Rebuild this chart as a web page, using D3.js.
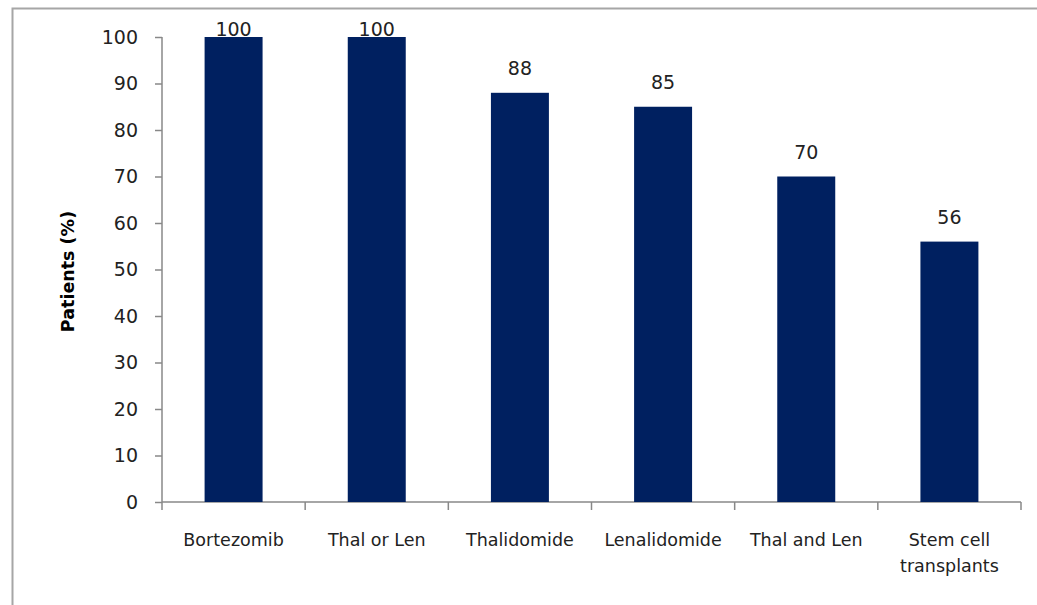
<!DOCTYPE html>
<html><head><meta charset="utf-8">
<script src="https://cdn.jsdelivr.net/npm/d3@7"></script>
<style>body{margin:0;background:#fff}svg{display:block}text{font-family:"DejaVu Sans",Verdana,sans-serif}</style>
</head><body><svg id="c" width="1037" height="605"></svg>
<script>
const categories = [["Bortezomib"],["Thal or Len"],["Thalidomide"],["Lenalidomide"],["Thal and Len"],["Stem cell","transplants"]];
const values = [100,100,88,85,70,56];
const yTicks = [0,10,20,30,40,50,60,70,80,90,100];

const svg = d3.select("#c");
svg.append("rect").attr("x",12.5).attr("y",8.5).attr("width",1100).attr("height",700)
  .attr("fill","none").attr("stroke","#a6a6a6").attr("stroke-width",2);

const L=162, R=1021, T=37, B=502;
const x = d3.scaleBand().domain(d3.range(categories.length)).range([L,R]).paddingInner(0.595).paddingOuter(0.2975);
const y = d3.scaleLinear().domain([0,100]).range([B,T]);
const axisColor="#888";

// y axis
const ya = svg.append("g").attr("transform",`translate(${L},0)`)
  .call(d3.axisLeft(y).tickValues(yTicks).tickSize(7).tickPadding(17));
ya.selectAll("path,line").attr("stroke",axisColor).attr("stroke-width",1.5);
ya.select(".domain").attr("d",`M0,${B}V${T}`);
ya.selectAll("text").attr("font-size",19).attr("fill","#222").attr("font-family","DejaVu Sans");

// x axis
const xa = svg.append("g").attr("transform",`translate(0,${B})`);
xa.append("path").attr("d",`M${L},0H${R}`).attr("stroke",axisColor).attr("stroke-width",1.5);
d3.range(categories.length+1).forEach(i=>{
  const px = L + i*(R-L)/categories.length;
  xa.append("line").attr("x1",px).attr("x2",px).attr("y1",0).attr("y2",8).attr("stroke",axisColor).attr("stroke-width",1.5);
});
categories.forEach((lines,i)=>{
  const t = xa.append("text").attr("x",x(i)+x.bandwidth()/2).attr("y",44).attr("text-anchor","middle")
    .attr("font-size",17.5).attr("fill","#222");
  lines.forEach((s,j)=>t.append("tspan").attr("x",x(i)+x.bandwidth()/2).attr("dy",j?26:0).text(s));
});

// bars
svg.selectAll("rect.bar").data(values).join("rect").attr("class","bar")
  .attr("x",(d,i)=>x(i)).attr("width",x.bandwidth())
  .attr("y",d=>y(d)).attr("height",d=>B-y(d)).attr("fill","#002060");

// value labels
svg.selectAll("text.val").data(values).join("text").attr("class","val")
  .attr("x",(d,i)=>x(i)+x.bandwidth()/2).attr("y",d=>Math.max(y(d)-18, T-1))
  .attr("text-anchor","middle").attr("font-size",19).attr("fill","#222").text(d=>d);

// y title
svg.append("text").attr("transform",`translate(74,${(T+B)/2+2}) rotate(-90)`).attr("text-anchor","middle")
  .attr("font-size",17.5).attr("font-weight","bold").attr("fill","#000").text("Patients (%)");
</script></body></html>
